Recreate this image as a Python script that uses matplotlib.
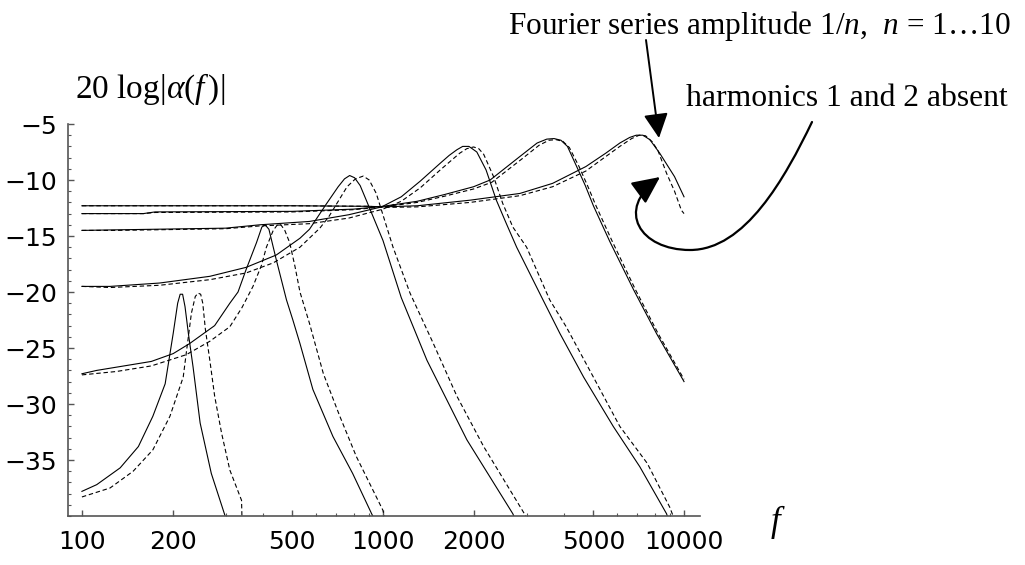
import matplotlib
matplotlib.use('Agg')
import matplotlib.pyplot as plt
from matplotlib.patches import FancyArrowPatch
from matplotlib.path import Path
from matplotlib.ticker import FixedLocator, NullFormatter

plt.rcParams['mathtext.fontset'] = 'custom'
plt.rcParams['mathtext.rm'] = 'Liberation Serif'
plt.rcParams['mathtext.it'] = 'Liberation Serif:italic'

# curve 1 (lowest resonance)
f1_solid = [100, 112, 134, 154, 172, 189, 201, 208, 212, 216, 220, 226, 234, 247, 269, 299]
db1_solid = [-37.8, -37.2, -35.7, -33.8, -31.1, -28.2, -23.7, -21.0, -20.2, -20.2, -21.3, -23.8, -26.7, -31.7, -36.2, -40.0]
f1_dash = [100, 124, 148, 172, 196, 217, 222, 231, 238, 243, 248, 252, 257, 266, 276, 291, 310, 339, 340]
db1_dash = [-38.3, -37.5, -36.0, -34.1, -31.1, -27.6, -25.5, -21.9, -20.4, -20.1, -20.2, -21.0, -23.3, -26.1, -29.3, -32.6, -35.9, -38.6, -40.0]

# curve 2
f2_solid = [100, 112, 170, 201, 228, 276, 310, 330, 351, 380, 396, 406, 418, 442, 478, 502, 530, 585, 682, 793, 917, 925]
db2_solid = [-27.3, -27.0, -26.2, -25.5, -24.6, -23.0, -21.0, -20.0, -18.0, -15.6, -14.2, -14.0, -14.4, -17.1, -20.7, -22.5, -24.6, -28.7, -32.9, -36.2, -39.8, -40.0]
f2_dash = [100, 130, 170, 222, 266, 310, 340, 370, 395, 410, 432, 446, 458, 472, 490, 510, 530, 570, 634, 719, 816, 1000, 1010]
db2_dash = [-27.4, -27.1, -26.6, -25.6, -24.4, -23.1, -21.4, -19.5, -17.6, -16.0, -14.5, -14.0, -14.0, -14.5, -15.6, -17.7, -20.0, -22.8, -27.3, -31.1, -34.7, -39.5, -40.0]

# curve 3
f3_solid = [100, 124, 181, 266, 351, 442, 530, 570, 650, 710, 745, 775, 805, 840, 880, 1000, 1150, 1400, 1900, 2700, 2720]
db3_solid = [-19.5, -19.5, -19.2, -18.6, -17.8, -16.7, -15.2, -14.4, -12.1, -10.6, -9.9, -9.6, -9.8, -10.5, -11.8, -15.4, -20.5, -26.1, -33.2, -39.8, -40.0]
f3_dash = [100, 124, 181, 266, 351, 432, 530, 617, 660, 760, 810, 860, 900, 950, 1080, 1230, 1470, 1760, 2160, 2950, 2980]
db3_dash = [-19.5, -19.6, -19.4, -18.9, -18.3, -17.4, -16.0, -14.3, -13.3, -10.6, -9.9, -9.65, -10.0, -11.2, -16.0, -20.1, -24.6, -29.3, -33.8, -39.8, -40.0]

# curve 4
f4_solid = [100, 130, 300, 390, 570, 770, 990, 1150, 1330, 1550, 1660, 1760, 1840, 1930, 2050, 2200, 2380, 2570, 2780, 3400, 3870, 4640, 5820, 7130, 8750, 8800]
db4_solid = [-14.5, -14.45, -14.3, -14.0, -13.7, -13.1, -12.4, -11.5, -10.1, -8.5, -7.8, -7.3, -7.0, -7.0, -7.5, -9.1, -11.8, -13.9, -16.0, -20.7, -23.7, -27.6, -32.0, -35.6, -39.8, -40.0]
f4_dash = [100, 130, 300, 390, 570, 770, 1000, 1150, 1330, 1550, 1800, 1900, 2000, 2080, 2160, 2330, 2500, 2700, 3000, 3580, 4060, 5000, 6120, 7550, 8960, 9200]
db4_dash = [-14.5, -14.5, -14.35, -14.1, -13.9, -13.4, -12.6, -11.9, -10.7, -9.1, -7.6, -7.2, -7.05, -7.2, -7.7, -9.7, -12.1, -14.2, -16.0, -20.7, -23.1, -27.6, -32.0, -35.3, -39.2, -40.0]

# curve 5
f5_solid = [100, 160, 175, 500, 800, 1000, 1300, 1600, 2000, 2270, 2850, 3250, 3500, 3700, 3900, 4100, 4400, 4700, 5000, 5670, 6800, 8100, 10000]
db5_solid = [-13.0, -13.0, -12.85, -12.8, -12.6, -12.35, -11.9, -11.3, -10.6, -10.0, -7.9, -6.7, -6.35, -6.3, -6.45, -7.0, -8.8, -10.5, -12.3, -15.5, -19.8, -23.7, -28.0]
f5_dash = [100, 160, 175, 500, 800, 1000, 1300, 1600, 2000, 2300, 2900, 3300, 3560, 3760, 3960, 4160, 4480, 4780, 5100, 5780, 6900, 8200, 10000]
db5_dash = [-13.0, -13.0, -12.9, -12.85, -12.65, -12.4, -12.0, -11.45, -10.8, -10.2, -8.1, -6.9, -6.45, -6.4, -6.55, -7.1, -8.8, -10.5, -12.3, -15.5, -19.8, -23.7, -27.8]

# curve 6 (highest resonance)
f6_solid = [100, 500, 900, 1000, 1300, 1950, 2850, 3660, 4720, 5500, 6120, 6600, 6940, 7300, 7700, 8300, 9300, 10000]
db6_solid = [-12.3, -12.3, -12.35, -12.4, -12.3, -11.8, -11.2, -10.3, -8.8, -7.6, -6.7, -6.2, -6.0, -6.0, -6.4, -7.6, -9.7, -11.5]
f6_dash = [100, 500, 900, 1000, 1300, 1950, 2850, 3660, 4720, 5500, 6120, 6700, 7100, 7450, 7850, 8200, 8750, 9300, 9800, 10000]
db6_dash = [-12.3, -12.3, -12.35, -12.45, -12.4, -12.0, -11.4, -10.6, -9.2, -7.9, -7.0, -6.3, -6.0, -6.05, -6.6, -7.4, -9.4, -11.0, -12.7, -13.0]

x_ticks = [100, 200, 500, 1000, 2000, 5000, 10000]
x_tick_labels = ['100', '200', '500', '1000', '2000', '5000', '10000']
x_minor = [300, 400, 600, 700, 800, 900, 3000, 4000, 6000, 7000, 8000, 9000]
y_ticks = [-35, -30, -25, -20, -15, -10, -5]

curves = [
    (f1_solid, db1_solid, f1_dash, db1_dash),
    (f2_solid, db2_solid, f2_dash, db2_dash),
    (f3_solid, db3_solid, f3_dash, db3_dash),
    (f4_solid, db4_solid, f4_dash, db4_dash),
    (f5_solid, db5_solid, f5_dash, db5_dash),
    (f6_solid, db6_solid, f6_dash, db6_dash),
]

W, H = 1025, 565
fig = plt.figure(figsize=(W / 100, H / 100), dpi=100)
ax = fig.add_axes([68 / W, 1 - 516 / H, 632 / W, 392 / H])

for fs, ds, fd, dd in curves:
    ax.plot(fs, ds, color='black', lw=0.8)
    ax.plot(fd, dd, color='black', lw=0.8, dashes=(4, 2.5))

ax.set_xscale('log')
ax.set_xlim(89.9, 11300)
ax.set_ylim(-40, -5)
ax.spines[['top', 'right']].set_visible(False)
for s in ['left', 'bottom']:
    ax.spines[s].set_color('#555555')
    ax.spines[s].set_linewidth(1.2)

ax.xaxis.set_major_locator(FixedLocator(x_ticks))
ax.set_xticklabels(x_tick_labels)
ax.xaxis.set_minor_locator(FixedLocator(x_minor))
ax.xaxis.set_minor_formatter(NullFormatter())
ax.set_yticks(y_ticks)
ax.yaxis.set_minor_locator(FixedLocator(range(-40, -4)))
ax.tick_params(which='both', direction='in', labelsize=18, color='#555555')
ax.tick_params(which='major', length=4, width=1)
ax.tick_params(which='minor', length=2, width=0.8)
ax.tick_params(axis='x', pad=10)
ax.tick_params(axis='y', pad=8)


def px(x, y):
    return (x / W, 1 - y / H)


# labels
fig.text(*px(75, 89), r'20 log|$\alpha$($f\,$)|', fontsize=24, family='Liberation Serif', va='center')
fig.text(*px(770, 522), r'$f$', fontsize=25, va='center')
fig.text(*px(508, 26), r'Fourier series amplitude 1/$n$,  $n$ = 1…10', fontsize=22.5,
         family='Liberation Serif', va='center')
fig.text(*px(686, 98), 'harmonics 1 and 2 absent', fontsize=22.8, family='Liberation Serif', va='center')

# straight arrow
arr1 = FancyArrowPatch(px(646, 40), px(659, 138), transform=fig.transFigure,
                       arrowstyle='-|>,head_length=1.5,head_width=0.75', mutation_scale=10,
                       lw=1.4, color='black', shrinkA=0, shrinkB=0)
fig.patches.append(arr1)

# curved arrow
verts = [px(812, 122), px(785, 178), px(745, 250), px(690, 250),
         px(640, 250), px(615, 210), px(660, 177)]
codes = [Path.MOVETO, Path.CURVE4, Path.CURVE4, Path.CURVE4,
         Path.CURVE4, Path.CURVE4, Path.CURVE4]
arr2 = FancyArrowPatch(path=Path(verts, codes), transform=fig.transFigure,
                       arrowstyle='-|>,head_length=1.7,head_width=0.8', mutation_scale=10,
                       lw=1.6, color='black')
fig.patches.append(arr2)

fig.savefig('out.png', dpi=100)
